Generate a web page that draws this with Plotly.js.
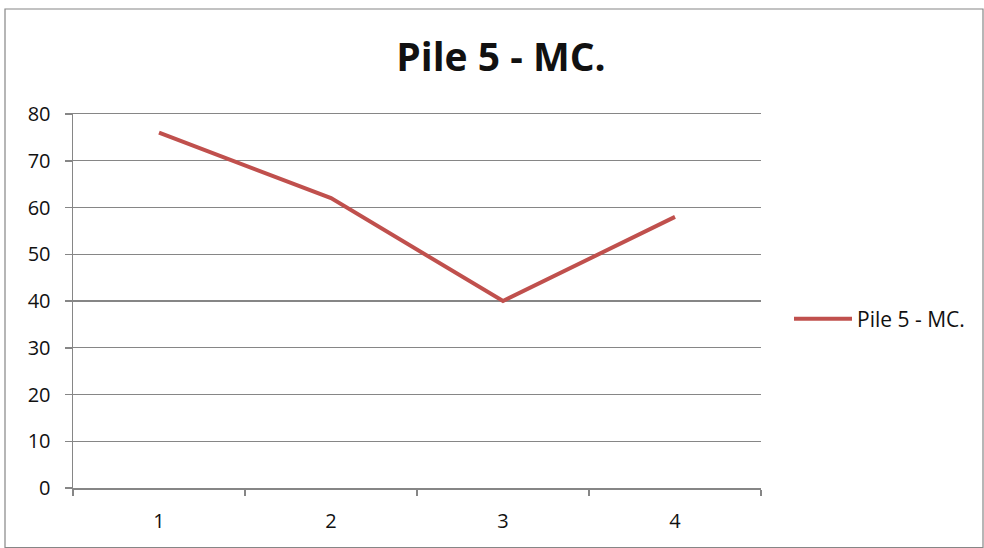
<!DOCTYPE html>
<html><head><meta charset="utf-8">
<script src="https://cdn.plot.ly/plotly-3.0.1.min.js"></script>
<style>html,body{margin:0;padding:0;background:#fff}#c{width:984px;height:548px}</style>
</head><body><div id="c"></div>
<script>
const categories = ['1','2','3','4'];
const seriesName = 'Pile 5 - MC.';
const values = [76, 62, 40, 58];
const yTicks = [0,10,20,30,40,50,60,70,80];
const titleText = 'Pile 5 - MC.';

const L=73, R=761, T=114, B=488, W=984, H=548;
const pw=R-L, ph=B-T;
const px = x => (x-L)/pw, py = y => (B-y)/ph;

const data=[{
  type:'scatter', mode:'lines', x:categories, y:values, name:seriesName,
  line:{color:'#C0504D', width:4}
}];
const font="'Open Sans', sans-serif";
const layout={
  width:W, height:H,
  margin:{l:L, r:W-R, t:T, b:H-B, pad:0},
  paper_bgcolor:'#fff', plot_bgcolor:'#fff',
  title:{text:'<b>'+titleText+'</b>', font:{family:font, size:39, color:'#111'}, x:501/W, xref:'container', y:1-57/H, yref:'container', xanchor:'center', yanchor:'middle'},
  showlegend:true,
  legend:{x:px(789), y:py(319), xanchor:'left', yanchor:'middle', font:{family:font, size:21, color:'#111'}, itemwidth:58, bgcolor:'rgba(0,0,0,0)', tracegroupgap:0},
  xaxis:{type:'category', range:[-0.5,3.5], tickson:'boundaries', ticks:'outside', ticklen:6, tickcolor:'#868686', tickwidth:1.5,
    showline:true, mirror:true, linecolor:'#868686', linewidth:1.5, showgrid:false, zeroline:false,
    tickfont:{family:font, size:20, color:'#111'}, ticklabelstandoff:14},
  yaxis:{range:[0,80], tickvals:yTicks, ticktext:yTicks.map(String), ticks:'outside', ticklen:7, tickcolor:'#868686', tickwidth:1.5,
    showline:true, linecolor:'#868686', linewidth:1.5, showgrid:true, gridcolor:'#868686', gridwidth:1.2, zeroline:false,
    tickfont:{family:font, size:20, color:'#111'}, ticklabelstandoff:10},
  shapes:[{type:'rect', xref:'paper', yref:'paper', x0:px(5), x1:px(983), y0:py(547.5), y1:py(9), line:{color:'#868686', width:1.2}, fillcolor:'rgba(0,0,0,0)', layer:'below'}]
};
Plotly.newPlot('c', data, layout, {displayModeBar:false, staticPlot:true});
</script></body></html>
